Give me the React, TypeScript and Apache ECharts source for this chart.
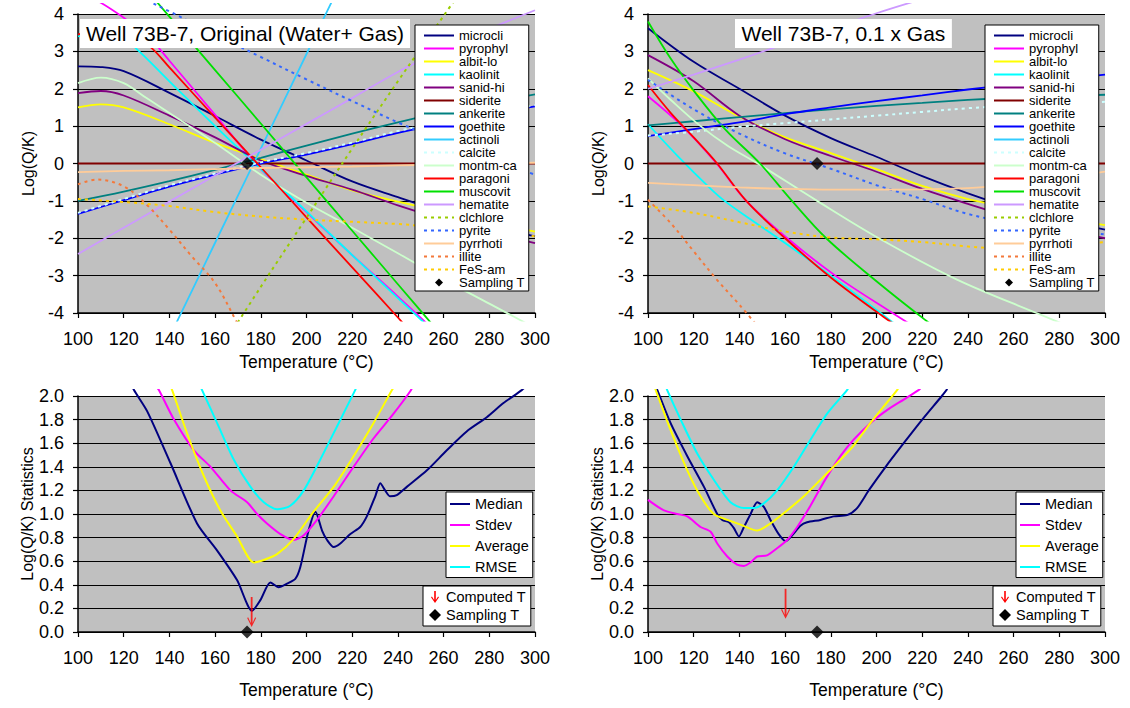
import React, { useEffect, useRef } from "react";
import * as echarts from "echarts";

const FONT = "'Liberation Sans', Arial, Helvetica, sans-serif";

// ---------------- categories / ticks ----------------
const MINERALS = ["microcli", "pyrophyl", "albit-lo", "kaolinit", "sanid-hi", "siderite", "ankerite", "goethite", "actinoli", "calcite", "montm-ca", "paragoni", "muscovit", "hematite", "clchlore", "pyrite", "pyrrhoti", "illite", "FeS-am"];
const STATS = ["Median", "Stdev", "Average", "RMSE"];
const X_RANGE = [100, 300];
const X_STEP = 20;
const TOP_Y = [-4, 4];
const TOP_Y_STEP = 1;
const BOT_Y = [0, 2];
const BOT_Y_STEP = 0.2;
const TITLES = ["Well 73B-7, Original (Water+ Gas)", "Well 73B-7, 0.1 x Gas"];

// ---------------- top-left: Original (Water + Gas) ----------------
const TL_microcli = [[100, 2.6], [110, 2.58], [120, 2.47], [140, 1.89], [160, 1.27], [180, 0.64], [200, 0.08], [220, -0.48], [240, -0.9], [260, -1.3], [280, -1.65], [300, -1.95]];
const TL_pyrophyl = [[100, 4.6], [110, 4.3], [120, 3.9], [130, 3.45], [140, 2.75], [160, 1.3], [180, -0.15], [200, -1.3], [220, -2.45], [240, -3.56], [260, -4.7]];
const TL_albit = [[100, 1.5], [110, 1.58], [120, 1.5], [140, 1.05], [160, 0.55], [180, 0.12], [200, -0.3], [220, -0.72], [240, -1.02], [260, -1.3], [280, -1.57], [300, -1.82]];
const TL_kaolinit = [[100, 3.4], [110, 3.5], [118, 3.4], [125, 3.1], [140, 2.2], [160, 1.0], [180, -0.15], [200, -1.28], [220, -2.45], [240, -3.6], [260, -4.75]];
const TL_sanid = [[100, 1.88], [110, 1.94], [120, 1.82], [140, 1.28], [160, 0.7], [180, 0.08], [200, -0.33], [220, -0.7], [240, -1.12], [260, -1.5], [280, -1.83], [300, -2.13]];
const TL_siderite = [[100, 0], [120, 0], [140, 0], [160, 0], [180, 0], [200, 0], [220, 0], [240, 0], [260, 0], [280, 0], [300, 0]];
const TL_ankerite = [[100, -1.0], [120, -0.75], [140, -0.47], [160, -0.17], [180, 0.15], [200, 0.48], [220, 0.8], [240, 1.1], [260, 1.38], [280, 1.62], [300, 1.85]];
const TL_goethite = [[100, -1.35], [120, -0.98], [140, -0.62], [160, -0.3], [180, 0.0], [200, 0.24], [220, 0.52], [240, 0.82], [260, 1.08], [280, 1.32], [300, 1.53]];
const TL_actinoli = [[130, -5.9], [140, -4.65], [160, -2.12], [180, 0.4], [200, 2.93], [220, 5.46]];
const TL_calcite = [[100, -1.32], [120, -0.95], [140, -0.58], [160, -0.27], [180, 0.03], [200, 0.28], [220, 0.56], [240, 0.87], [260, 1.12], [280, 1.35], [300, 1.56]];
const TL_montm = [[100, 2.15], [110, 2.3], [120, 2.15], [130, 1.75], [140, 1.35], [160, 0.55], [180, -0.3], [200, -1.05], [220, -1.72], [240, -2.4], [260, -3.1], [280, -3.75], [300, -4.4]];
const TL_paragoni = [[100, 3.45], [112, 3.62], [122, 3.5], [132, 3.1], [140, 2.57], [160, 1.23], [180, -0.1], [200, -1.44], [220, -2.78], [240, -4.12], [250, -4.8]];
const TL_muscovit = [[100, 6.8], [120, 5.36], [140, 3.93], [160, 2.5], [180, 1.07], [200, -0.37], [220, -1.8], [240, -3.23], [260, -4.66]];
const TL_hematite = [[100, -2.42], [120, -1.72], [140, -1.02], [160, -0.32], [180, 0.37], [200, 1.06], [220, 1.75], [240, 2.45], [260, 3.05], [280, 3.6], [300, 4.1]];
const TL_clchlore = [[160, -5.2], [180, -3.3], [200, -1.45], [220, 0.4], [240, 2.2], [260, 3.95], [280, 5.7]];
const TL_pyrite = [[100, 5.25], [120, 4.66], [140, 4.07], [160, 3.45], [180, 2.85], [200, 2.25], [220, 1.67], [240, 1.1], [260, 0.6], [280, 0.15], [300, -0.3]];
const TL_pyrrhoti = [[100, -0.23], [120, -0.2], [140, -0.18], [160, -0.15], [180, -0.12], [200, -0.1], [220, -0.08], [240, -0.05], [260, -0.03], [280, 0.0], [300, 0.02]];
const TL_illite = [[100, -0.56], [108, -0.43], [120, -0.61], [130, -1.1], [140, -1.77], [150, -2.5], [160, -3.2], [170, -4.3], [180, -5.4]];
const TL_FeS = [[100, -0.95], [120, -1.03], [140, -1.14], [160, -1.3], [180, -1.42], [200, -1.5], [220, -1.56], [240, -1.62], [260, -1.72], [280, -1.83], [300, -1.95]];

// ---------------- top-right: 0.1 x Gas ----------------
const TR_microcli = [[100, 3.62], [120, 2.72], [140, 2.0], [160, 1.28], [180, 0.68], [200, 0.18], [220, -0.34], [240, -0.8], [260, -1.2], [280, -1.5], [300, -1.77]];
const TR_pyrophyl = [[100, 1.8], [115, 1.0], [130, 0.0], [143, -1.0], [161, -2.0], [182, -3.0], [207, -4.0], [220, -4.5]];
const TR_albit = [[100, 2.5], [120, 1.93], [140, 1.25], [160, 0.7], [180, 0.28], [200, -0.15], [220, -0.6], [240, -0.95], [260, -1.2], [280, -1.45], [300, -1.65]];
const TR_kaolinit = [[100, 1.05], [113, 0.2], [127, -0.65], [133.5, -1.0], [145, -1.5], [157, -2.0], [180, -3.0], [205, -4.15], [215, -4.6]];
const TR_sanid = [[100, 2.9], [120, 2.2], [140, 1.28], [160, 0.65], [180, 0.2], [200, -0.22], [220, -0.68], [240, -1.08], [260, -1.45], [280, -1.75], [300, -2.0]];
const TR_siderite = [[100, 0], [120, 0], [140, 0], [160, 0], [180, 0], [200, 0], [220, 0], [240, 0], [260, 0], [280, 0], [300, 0]];
const TR_ankerite = [[100, 1.02], [120, 1.13], [140, 1.24], [160, 1.35], [180, 1.45], [200, 1.54], [220, 1.62], [240, 1.7], [260, 1.76], [280, 1.8], [300, 1.84]];
const TR_goethite = [[100, 0.73], [120, 0.92], [140, 1.1], [160, 1.32], [180, 1.5], [200, 1.67], [220, 1.82], [240, 1.98], [260, 2.12], [280, 2.25], [300, 2.38]];
const TR_actinoli: number[][] = [];
const TR_calcite = [[100, 0.75], [120, 0.85], [140, 0.98], [160, 1.08], [180, 1.18], [200, 1.28], [220, 1.38], [240, 1.48], [260, 1.55], [280, 1.6], [300, 1.65]];
const TR_montm = [[100, 2.28], [110, 1.7], [123, 1.0], [135, 0.47], [148, 0.0], [174, -1.0], [201, -2.0], [235, -3.1], [270, -4.0], [290, -4.5]];
const TR_paragoni = [[100, 2.1], [110, 1.35], [120, 0.7], [130, 0.02], [143, -1.0], [160, -2.0], [180, -3.05], [203, -4.1], [215, -4.6]];
const TR_muscovit = [[100, 3.8], [110, 2.8], [121, 1.87], [134, 0.9], [149, 0.0], [163, -1.0], [178, -2.0], [200, -3.15], [221, -4.17], [235, -4.8]];
const TR_hematite = [[100, 2.0], [120, 2.38], [140, 2.78], [160, 3.2], [180, 3.6], [200, 4.02], [220, 4.4]];
const TR_clchlore: number[][] = [];
const TR_pyrite = [[100, 2.24], [120, 1.45], [140, 0.8], [160, 0.27], [180, -0.14], [200, -0.58], [220, -0.95], [240, -1.35], [260, -1.6], [280, -1.75], [300, -1.9]];
const TR_pyrrhoti = [[100, -0.52], [120, -0.58], [140, -0.64], [160, -0.68], [180, -0.7], [200, -0.7], [220, -0.69], [240, -0.66], [260, -0.55], [280, -0.4], [300, -0.22]];
const TR_illite = [[100, -0.97], [110, -1.6], [120, -2.35], [130, -3.1], [140, -3.78], [150, -4.5]];
const TR_FeS = [[100, -1.15], [120, -1.32], [140, -1.57], [160, -1.82], [180, -1.98], [200, -2.03], [220, -2.1], [240, -2.22], [260, -2.28], [280, -2.2], [300, -2.1]];

// ---------------- bottom-left statistics ----------------
const BL_median = [[122, 2.15], [124.5, 2.05], [130.3, 1.87], [140.5, 1.43], [152.1, 0.92], [160.9, 0.69], [169.6, 0.44], [176.2, 0.18], [179.8, 0.27], [184.2, 0.42], [187.8, 0.38], [191.5, 0.41], [195.1, 0.45], [197.3, 0.55], [200.9, 0.86], [203.9, 1.02], [206.8, 0.86], [209, 0.78], [211.9, 0.72], [214.8, 0.75], [219.2, 0.83], [223.5, 0.89], [226.4, 0.98], [230.1, 1.15], [232.3, 1.26], [234.4, 1.2], [236.6, 1.15], [239.5, 1.16], [243.9, 1.23], [252.7, 1.37], [261.4, 1.54], [270.1, 1.7], [278.9, 1.82], [286.2, 1.94], [294.2, 2.05], [298, 2.12]];
const BL_stdev = [[133.5, 2.1], [135.4, 2.05], [142, 1.8], [150.7, 1.54], [158, 1.4], [166.7, 1.2], [174, 1.1], [178.4, 1.0], [182.7, 0.92], [188.6, 0.83], [194.4, 0.78], [198.8, 0.82], [204.6, 0.95], [211.9, 1.15], [220.6, 1.4], [229.3, 1.64], [238.1, 1.85], [245.4, 2.04], [247, 2.1]];
const BL_average = [[139.5, 2.12], [141.2, 2.05], [147.8, 1.68], [155.1, 1.32], [162.3, 1.03], [169.6, 0.81], [176.9, 0.59], [181.3, 0.61], [187.1, 0.66], [194.4, 0.79], [203.1, 1.02], [211.9, 1.23], [220.6, 1.49], [229.3, 1.77], [237.4, 2.05], [239, 2.1]];
const BL_rmse = [[153, 2.1], [154.3, 2.05], [160.9, 1.77], [168.2, 1.46], [175.5, 1.23], [181.3, 1.1], [187.1, 1.04], [192.9, 1.07], [198.8, 1.2], [206, 1.46], [213.3, 1.74], [221.3, 2.05], [223, 2.12]];
const BL_computedT = [[176, 0.17]];

// ---------------- bottom-right statistics ----------------
const BR_median = [[103, 2.1], [104.1, 2.05], [109.9, 1.77], [117.2, 1.49], [124.5, 1.23], [130.3, 1.0], [132.5, 0.95], [135.4, 0.93], [137.6, 0.88], [139.8, 0.81], [142, 0.89], [144.9, 1.0], [147.8, 1.1], [150.7, 1.06], [153.6, 0.95], [157.2, 0.83], [160.2, 0.77], [163.1, 0.82], [166.7, 0.9], [169.6, 0.93], [175.5, 0.95], [181.3, 0.98], [187.1, 0.99], [191.5, 1.05], [196.6, 1.2], [204, 1.4], [211.9, 1.6], [220, 1.8], [228.6, 2.0], [231, 2.06]];
const BR_stdev = [[100, 1.12], [107, 1.03], [112.8, 1.0], [117.2, 0.98], [123, 0.89], [127.4, 0.85], [130.3, 0.75], [134.7, 0.64], [139, 0.57], [142, 0.56], [144.9, 0.59], [147.8, 0.64], [152.1, 0.65], [156.5, 0.71], [160.9, 0.78], [165.3, 0.89], [171.1, 1.07], [176.9, 1.27], [184.2, 1.49], [190, 1.63], [197.3, 1.77], [204.6, 1.88], [211.9, 1.97], [218.4, 2.05], [220, 2.08]];
const BR_average = [[102.5, 2.1], [103.4, 2.05], [109.9, 1.71], [117.2, 1.37], [123, 1.15], [128.8, 1.0], [134.7, 0.95], [140.5, 0.91], [147.8, 0.86], [153.6, 0.92], [160.9, 1.03], [168.2, 1.15], [175.5, 1.29], [182.7, 1.43], [190, 1.58], [197.3, 1.77], [203.1, 1.91], [209, 2.05], [210.5, 2.1]];
const BR_rmse = [[107.5, 2.1], [108.4, 2.05], [114.3, 1.8], [121.6, 1.51], [128.8, 1.29], [136.1, 1.1], [142, 1.05], [146.3, 1.05], [150.7, 1.09], [156.5, 1.2], [163.8, 1.4], [171.1, 1.63], [178.4, 1.85], [187.1, 2.05], [188.5, 2.1]];
const BR_computedT = [[160.2, 0.24]];

const SAMPLING_T = [[174, 0]];

// ---------------- assemble ----------------
const TL_DATA = [TL_microcli, TL_pyrophyl, TL_albit, TL_kaolinit, TL_sanid, TL_siderite, TL_ankerite, TL_goethite, TL_actinoli, TL_calcite, TL_montm, TL_paragoni, TL_muscovit, TL_hematite, TL_clchlore, TL_pyrite, TL_pyrrhoti, TL_illite, TL_FeS];
const TR_DATA = [TR_microcli, TR_pyrophyl, TR_albit, TR_kaolinit, TR_sanid, TR_siderite, TR_ankerite, TR_goethite, TR_actinoli, TR_calcite, TR_montm, TR_paragoni, TR_muscovit, TR_hematite, TR_clchlore, TR_pyrite, TR_pyrrhoti, TR_illite, TR_FeS];
const BL_DATA = [BL_median, BL_stdev, BL_average, BL_rmse];
const BR_DATA = [BR_median, BR_stdev, BR_average, BR_rmse];

// ---------------- styles ----------------
const MINERAL_COLORS = ["#000080", "#FF00FF", "#FFFF00", "#00FFFF", "#800080", "#800000", "#008080", "#0000FF", "#33CCFF", "#CCFFFF", "#CCFFCC", "#FF0000", "#00E000", "#CC99FF", "#99CC00", "#3366FF", "#FFCC99", "#F4793B", "#FFCC00"];
const MINERAL_DASHED = [false, false, false, false, false, false, false, false, false, true, false, false, false, false, true, true, false, true, true];
const STAT_COLORS = ["#000080", "#FF00FF", "#FFFF00", "#00FFFF"];
const ARROW = "path://M3.6,0 L5.4,0 L5.4,26 L8,20.2 L9,21 L4.5,30 L0,21 L1,20.2 L3.6,26 Z";
const ARROW_ICON = "path://M3.2,0 L4.8,0 L4.8,9 L7.1,5.5 L8,6.3 L4,12 L0,6.3 L0.9,5.5 L3.2,9 Z";
// diamond padded to the 30x8 legend slot so it keeps its square shape
const DIAMOND_ICON_WIDE = "path://M0,4 L0.01,4 L0.01,4.01 Z M11,4 L15,0 L19,4 L15,8 Z M29.99,4 L30,4 L30,4.01 Z";

const PANELS = [
  { left: 78, top: 14, width: 457, height: 299, y: TOP_Y, step: TOP_Y_STEP, extTop: 10, extBottom: 7.5, yName: "Log(Q/K)", nameGap: 40 },
  { left: 648, top: 14, width: 457, height: 299, y: TOP_Y, step: TOP_Y_STEP, extTop: 10, extBottom: 7.5, yName: "Log(Q/K)", nameGap: 40 },
  { left: 78, top: 396, width: 457, height: 236, y: BOT_Y, step: BOT_Y_STEP, extTop: 6, extBottom: 0, yName: "Log(Q/K) Statistics", nameGap: 49 },
  { left: 648, top: 396, width: 457, height: 236, y: BOT_Y, step: BOT_Y_STEP, extTop: 6, extBottom: 0, yName: "Log(Q/K) Statistics", nameGap: 49 },
];

function buildOption() {
  const grid: any[] = [];
  const xAxis: any[] = [];
  const yAxis: any[] = [];
  PANELS.forEach((p, i) => {
    grid.push({ left: p.left, top: p.top, width: p.width, height: p.height, show: true, backgroundColor: "#C0C0C0", borderWidth: 0 });
    xAxis.push({
      type: "value", gridIndex: i, min: X_RANGE[0], max: X_RANGE[1], interval: X_STEP,
      axisLine: { show: true, onZero: false, lineStyle: { color: "#000", width: 1.5 } },
      axisTick: { show: true, inside: false, length: 5, lineStyle: { color: "#000", width: 1.2 } },
      splitLine: { show: false },
      axisLabel: { fontFamily: FONT, fontSize: 18, color: "#000", margin: 17 },
      name: "Temperature (°C)", nameLocation: "middle", nameGap: p.nameGap,
      nameTextStyle: { fontFamily: FONT, fontSize: 17.5, color: "#000" },
    });
    yAxis.push({
      type: "value", gridIndex: i, min: p.y[0], max: p.y[1], interval: p.step,
      axisLine: { show: true, onZero: false, lineStyle: { color: "#000", width: 1.5 } },
      axisTick: { show: true, inside: false, length: 5, lineStyle: { color: "#000", width: 1.2 } },
      splitLine: { show: true, lineStyle: { color: "#000", width: 1.2 } },
      axisLabel: {
        fontFamily: FONT, fontSize: 18, color: "#000", margin: 14,
        formatter: p.step < 1 ? (v: number) => v.toFixed(1) : (v: number) => String(v),
      },
      name: p.yName, nameLocation: "middle", nameGap: 42, nameRotate: 90,
      nameTextStyle: { fontFamily: FONT, fontSize: 16, color: "#000" },
    });
  });
  // hidden, slightly taller grids for the series (lines spill a bit past the plot as in the original)
  PANELS.forEach((p, i) => {
    const ppu = p.height / (p.y[1] - p.y[0]);
    grid.push({ left: p.left, top: p.top - p.extTop, width: p.width, height: p.height + p.extTop + p.extBottom, show: false });
    xAxis.push({ type: "value", gridIndex: 4 + i, min: X_RANGE[0], max: X_RANGE[1], show: false });
    yAxis.push({ type: "value", gridIndex: 4 + i, min: p.y[0] - p.extBottom / ppu, max: p.y[1] + p.extTop / ppu, show: false });
  });

  const series: any[] = [];
  const line = (name: string, data: number[][], axis: number, color: string, dashed: boolean, width: number, smooth: number) => ({
    type: "line", name, data, xAxisIndex: axis, yAxisIndex: axis, symbol: "none", showSymbol: false,
    smooth, clip: true, silent: true,
    lineStyle: { color, width, type: dashed ? [3, 4] : "solid" }, itemStyle: { color },
    emphasis: { disabled: true },
  });
  const diamond = (axis: number) => ({
    type: "scatter", name: "Sampling T", data: SAMPLING_T, xAxisIndex: axis, yAxisIndex: axis,
    symbol: "diamond", symbolSize: 13, itemStyle: { color: "#000" }, clip: false, silent: true, z: 5,
  });
  [TL_DATA, TR_DATA].forEach((set, p) => {
    MINERALS.forEach((m, k) => {
      series.push(line(m, set[k], 4 + p, MINERAL_COLORS[k], MINERAL_DASHED[k], MINERAL_DASHED[k] ? 2 : 1.8, 0.35));
    });
    series.push(diamond(4 + p));
  });
  [[BL_DATA, BL_computedT], [BR_DATA, BR_computedT]].forEach(([set, comp]: any, p) => {
    STATS.forEach((s, k) => series.push(line(s, set[k], 6 + p, STAT_COLORS[k], false, 2, 0.25)));
    series.push({
      type: "scatter", name: "Computed T", data: comp, xAxisIndex: 6 + p, yAxisIndex: 6 + p,
      symbol: ARROW, symbolSize: [9, 30], itemStyle: { color: "#FF0000" }, clip: false, silent: true, z: 5,
    });
    series.push(diamond(6 + p));
  });

  const legendBase = {
    orient: "vertical", selectedMode: false, backgroundColor: "#FFFFFF", borderColor: "#000", borderWidth: 1, borderRadius: 0, itemGap: 0,
    itemStyle: { opacity: 0 },
  };
  const topLegend = (left: number) => ({
    ...legendBase, left, top: 25,
    data: [...MINERALS, { name: "Sampling T", icon: DIAMOND_ICON_WIDE, itemStyle: { color: "#000", opacity: 1 } }],
    itemWidth: 30, itemHeight: 8, padding: [4, 4, 2, 8],
    textStyle: { fontFamily: FONT, fontSize: 13, color: "#000", lineHeight: 12.26 },
  });
  const statLegend = (left: number) => ({
    ...legendBase, left, top: 492, data: STATS,
    itemWidth: 20, itemHeight: 10, padding: [1.5, 4, 0, 3],
    textStyle: { fontFamily: FONT, fontSize: 14.5, color: "#000", lineHeight: 21 },
  });
  const markLegend = (left: number) => ({
    ...legendBase, left, top: 586,
    data: [
      { name: "Computed T", icon: ARROW_ICON, itemStyle: { color: "#FF0000", opacity: 1 } },
      { name: "Sampling T", icon: "diamond", itemStyle: { color: "#000", opacity: 1 } },
    ],
    itemWidth: 12, itemHeight: 12, padding: [2, 5, 2, 6],
    textStyle: { fontFamily: FONT, fontSize: 14.5, color: "#000", lineHeight: 18 },
  });

  const titleStyle = { fontFamily: FONT, fontSize: 21, fontWeight: "normal", color: "#000" };
  return {
    animation: false,
    backgroundColor: "#FFFFFF",
    title: [
      { text: TITLES[0], left: 80, top: 19, padding: [4, 6], backgroundColor: "#FFFFFF", textStyle: titleStyle },
      { text: TITLES[1], left: 735, top: 19, padding: [4, 6.5], backgroundColor: "#FFFFFF", textStyle: titleStyle },
    ],
    grid, xAxis, yAxis,
    legend: [topLegend(415), topLegend(985), statLegend(446), statLegend(1016), markLegend(423), markLegend(993)],
    series,
  };
}

export default function App() {
  const ref = useRef<HTMLDivElement>(null);
  useEffect(() => {
    if (!ref.current) return;
    const chart = echarts.init(ref.current, undefined, { renderer: "svg" });
    chart.setOption(buildOption() as any);
    return () => chart.dispose();
  }, []);
  return <div ref={ref} style={{ position: "absolute", left: 0, top: 0, width: 1130, height: 708, background: "#fff" }} />;
}
